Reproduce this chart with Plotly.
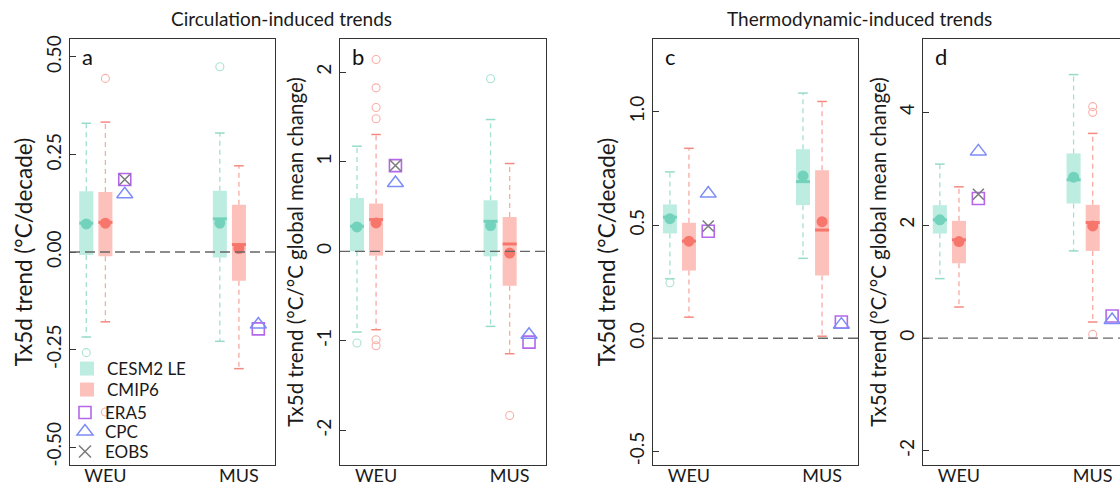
import plotly.graph_objects as go

# ---------------- data ----------------
regions = ["WEU", "MUS"]
models = ["CESM2 LE", "CMIP6"]

# per panel -> per model: [WEU, MUS]
# panel a : circulation-induced, degC/decade
a_q1 = {"CESM2 LE": [-0.008, -0.014], "CMIP6": [-0.011, -0.074]}
a_med = {"CESM2 LE": [0.074, 0.085], "CMIP6": [0.076, 0.019]}
a_q3 = {"CESM2 LE": [0.156, 0.157], "CMIP6": [0.154, 0.121]}
a_lo = {"CESM2 LE": [-0.218, -0.229], "CMIP6": [-0.179, -0.299]}
a_hi = {"CESM2 LE": [0.330, 0.305], "CMIP6": [0.333, 0.221]}
a_mean = {"CESM2 LE": [0.072, 0.074], "CMIP6": [0.074, 0.009]}
a_out = {"CESM2 LE": [[-0.258], [0.475]], "CMIP6": [[0.445, -0.41], []]}
a_era5 = [0.186, -0.197]
a_cpc = [0.148, -0.186]
a_eobs = [0.186, None]

# panel b : circulation-induced, degC/degC GMST
b_q1 = {"CESM2 LE": [0.0, -0.056], "CMIP6": [-0.048, -0.384]}
b_med = {"CESM2 LE": [0.28, 0.335], "CMIP6": [0.354, 0.082]}
b_q3 = {"CESM2 LE": [0.596, 0.570], "CMIP6": [0.533, 0.384]}
b_lo = {"CESM2 LE": [-0.901, -0.838], "CMIP6": [-0.875, -1.143]}
b_hi = {"CESM2 LE": [1.173, 1.471], "CMIP6": [1.304, 0.98]}
b_mean = {"CESM2 LE": [0.272, 0.287], "CMIP6": [0.317, -0.019]}
b_out = {"CESM2 LE": [[-1.024], [1.926]],
         "CMIP6": [[2.141, 1.825, 1.605, 1.479, -0.987, -1.054], [-1.832]]}
b_era5 = [0.957, -1.013]
b_cpc = [0.763, -0.931]
b_eobs = [0.957, None]

# panel c : thermodynamic-induced, degC/decade
c_q1 = {"CESM2 LE": [0.463, 0.588], "CMIP6": [0.299, 0.277]}
c_med = {"CESM2 LE": [0.535, 0.692], "CMIP6": [0.429, 0.478]}
c_q3 = {"CESM2 LE": [0.591, 0.835], "CMIP6": [0.510, 0.742]}
c_lo = {"CESM2 LE": [0.263, 0.353], "CMIP6": [0.093, 0.009]}
c_hi = {"CESM2 LE": [0.735, 1.083], "CMIP6": [0.839, 1.046]}
c_mean = {"CESM2 LE": [0.528, 0.717], "CMIP6": [0.429, 0.515]}
c_out = {"CESM2 LE": [[0.245], []], "CMIP6": [[], []]}
c_era5 = [0.473, 0.072]
c_cpc = [0.639, 0.060]
c_eobs = [0.496, None]

# panel d : thermodynamic-induced, degC/degC GMST
d_q1 = {"CESM2 LE": [1.852, 2.385], "CMIP6": [1.325, 1.544]}
d_med = {"CESM2 LE": [2.095, 2.805], "CMIP6": [1.740, 2.047]}
d_q3 = {"CESM2 LE": [2.355, 3.272], "CMIP6": [2.077, 2.361]}
d_lo = {"CESM2 LE": [1.053, 1.544], "CMIP6": [0.550, 0.284]}
d_hi = {"CESM2 LE": [3.083, 4.669], "CMIP6": [2.680, 3.627]}
d_mean = {"CESM2 LE": [2.095, 2.852], "CMIP6": [1.710, 1.988]}
d_out = {"CESM2 LE": [[], []], "CMIP6": [[], [4.101, 4.0, 0.065]]}
d_era5 = [2.473, 0.391]
d_cpc = [3.308, 0.320]
d_eobs = [2.550, None]

panel_letters = ["a", "b", "c", "d"]
y_titles = ["Tx5d trend (°C/decade)", "Tx5d trend (°C/°C global mean change)",
            "Tx5d trend (°C/decade)", "Tx5d trend (°C/°C global mean change)"]
y_tickvals = [[-0.5, -0.25, 0, 0.25, 0.5], [-2, -1, 0, 1, 2],
              [-0.5, 0.0, 0.5, 1.0], [-2, 0, 2, 4]]
y_ticktext = [["-0.50", "-0.25", "0.00", "0.25", "0.50"], ["-2", "-1", "0", "1", "2"],
              ["-0.5", "0.0", "0.5", "1.0"], ["-2", "0", "2", "4"]]
y_ranges = [[-0.546, 0.546], [-2.385, 2.37], [-0.56, 1.322], [-2.25, 5.3]]
group_titles = ["Circulation-induced trends", "Thermodynamic-induced trends"]
legend_names = ["CESM2 LE", "CMIP6", "ERA5", "CPC", "EOBS"]

# ---------------- styles ----------------
FONT = "Lato"
TXT = "#1a1a1a"
box_fill = {"CESM2 LE": "#bdece0", "CMIP6": "#fdc1bc"}
dot_col = {"CESM2 LE": "#72d2bb", "CMIP6": "#f7766b"}
whisk_col = {"CESM2 LE": "#a3e0d1", "CMIP6": "#f8aaa3"}
cap_col = {"CESM2 LE": "#95dbc9", "CMIP6": "#f58a80"}
out_col = {"CESM2 LE": "#a8e3d4", "CMIP6": "#f9b0aa"}
offset = {"CESM2 LE": -0.143, "CMIP6": 0.0}
obs_off = 0.145
box_w = 0.105
cap_hw = 0.036
ERA5_C = "#b467ea"
CPC_C = "#7d8df6"
EOBS_C = "#7a7a7a"
title_sizes = [22.5, 20.5, 22.5, 20.5]

W, H = 1120, 487
MT, MB = 39, 22
domains = [[70 / W, 275 / W], [340 / W, 546 / W],
           [653 / W, 858 / W], [923 / W, 1.0]]
x_ranges = [[0.735, 2.27], [0.73, 2.272], [0.73, 2.27], [0.731, 2.204]]

panels = [
    (a_q1, a_med, a_q3, a_lo, a_hi, a_mean, a_out, a_era5, a_cpc, a_eobs),
    (b_q1, b_med, b_q3, b_lo, b_hi, b_mean, b_out, b_era5, b_cpc, b_eobs),
    (c_q1, c_med, c_q3, c_lo, c_hi, c_mean, c_out, c_era5, c_cpc, c_eobs),
    (d_q1, d_med, d_q3, d_lo, d_hi, d_mean, d_out, d_era5, d_cpc, d_eobs),
]

fig = go.Figure()
base_pos = [1, 2]

for i, (q1, med, q3, lo, hi, mean, outl, era5, cpc, eobs) in enumerate(panels):
    xa = "x" if i == 0 else f"x{i+1}"
    ya = "y" if i == 0 else f"y{i+1}"
    for m in models:
        xp = [b + offset[m] for b in base_pos]
        # boxes (inter-quartile range)
        fig.add_trace(go.Bar(x=xp, y=[q3[m][k] - q1[m][k] for k in range(2)], base=q1[m],
                             width=box_w, marker=dict(color=box_fill[m], line=dict(width=0)),
                             xaxis=xa, yaxis=ya, showlegend=False, hoverinfo="skip"))
        # whiskers and caps
        wx, wy, cx, cy = [], [], [], []
        for k in range(2):
            wx += [xp[k], xp[k], None, xp[k], xp[k], None]
            wy += [q3[m][k], hi[m][k], None, q1[m][k], lo[m][k], None]
            cx += [xp[k] - cap_hw, xp[k] + cap_hw, None, xp[k] - cap_hw, xp[k] + cap_hw, None]
            cy += [hi[m][k], hi[m][k], None, lo[m][k], lo[m][k], None]
        fig.add_trace(go.Scatter(x=wx, y=wy, mode="lines",
                                 line=dict(color=whisk_col[m], width=1.3, dash="5px,4px"),
                                 xaxis=xa, yaxis=ya, showlegend=False, hoverinfo="skip"))
        fig.add_trace(go.Scatter(x=cx, y=cy, mode="lines",
                                 line=dict(color=cap_col[m], width=1.5),
                                 xaxis=xa, yaxis=ya, showlegend=False, hoverinfo="skip"))
        # median
        mx, my = [], []
        for k in range(2):
            mx += [xp[k] - box_w / 2, xp[k] + box_w / 2, None]
            my += [med[m][k], med[m][k], None]
        fig.add_trace(go.Scatter(x=mx, y=my, mode="lines",
                                 line=dict(color=dot_col[m], width=3),
                                 xaxis=xa, yaxis=ya, showlegend=False, hoverinfo="skip"))
        # mean
        fig.add_trace(go.Scatter(x=xp, y=mean[m], mode="markers",
                                 marker=dict(color=dot_col[m], size=11, line=dict(width=0)),
                                 xaxis=xa, yaxis=ya, showlegend=False, hoverinfo="skip"))
        # outliers
        ox, oy = [], []
        for k in range(2):
            for v in outl[m][k]:
                ox.append(xp[k])
                oy.append(v)
        if ox:
            fig.add_trace(go.Scatter(x=ox, y=oy, mode="markers",
                                     marker=dict(symbol="circle-open", color=out_col[m], size=8,
                                                 line=dict(width=1.1)),
                                     xaxis=xa, yaxis=ya, showlegend=False, hoverinfo="skip"))
    # observations
    xo = [b + obs_off for b in base_pos]
    fig.add_trace(go.Scatter(x=xo, y=era5, mode="markers",
                             marker=dict(symbol="square-open", color=ERA5_C, size=12,
                                         line=dict(width=1.6)),
                             xaxis=xa, yaxis=ya, showlegend=False, hoverinfo="skip"))
    fig.add_trace(go.Scatter(x=xo, y=cpc, mode="markers",
                             marker=dict(symbol="triangle-up-open", color=CPC_C, size=14,
                                         line=dict(width=1.5)),
                             xaxis=xa, yaxis=ya, showlegend=False, hoverinfo="skip"))
    fig.add_trace(go.Scatter(x=xo, y=eobs, mode="markers",
                             marker=dict(symbol="x-thin-open", color=EOBS_C, size=11,
                                         line=dict(width=1.5, color=EOBS_C)),
                             xaxis=xa, yaxis=ya, showlegend=False, hoverinfo="skip"))

    # zero line
    fig.add_shape(type="line", xref=f"{xa} domain", yref=ya, x0=0, x1=1, y0=0, y1=0,
                  line=dict(color="#666666", width=1.3, dash="10px,5px"), layer="above")
    # panel letter
    fig.add_annotation(text=panel_letters[i], xref=f"{xa} domain", yref=f"{ya} domain",
                       x=0.05, y=0.958, xanchor="left", yanchor="middle", showarrow=False,
                       font=dict(family=FONT, size=22, color="#111111"))

    axn = "" if i == 0 else str(i + 1)
    fig.update_layout(**{
        f"xaxis{axn}": dict(domain=domains[i], anchor=ya, range=x_ranges[i],
                            tickvals=base_pos, ticktext=regions, ticks="",
                            ticklabelstandoff=-6,
                            showgrid=False, zeroline=False, showline=True, mirror=True,
                            linecolor="#333333", linewidth=1.3,
                            tickfont=dict(family=FONT, size=18, color=TXT)),
        f"yaxis{axn}": dict(domain=[0, 1], anchor=xa, range=y_ranges[i],
                            tickvals=y_tickvals[i], ticktext=y_ticktext[i],
                            ticks="inside", ticklen=6, tickcolor="#333333", tickwidth=1.2,
                            tickangle=-90, showgrid=False, zeroline=False, showline=True,
                            mirror=(i != 3), linecolor="#333333", linewidth=1.3,
                            tickfont=dict(family=FONT, size=19, color=TXT),
                            title=dict(text=y_titles[i], standoff=3,
                                       font=dict(family=FONT, size=title_sizes[i], color=TXT))),
    })

# legend entries (one legend box per entry, stacked in panel a)
leg_markers = [
    dict(symbol="square", color=box_fill["CESM2 LE"], size=14),
    dict(symbol="square", color=box_fill["CMIP6"], size=14),
    dict(symbol="square-open", color=ERA5_C, size=12, line=dict(width=1.6)),
    dict(symbol="triangle-up-open", color=CPC_C, size=14, line=dict(width=1.5)),
    dict(symbol="x-thin-open", color=EOBS_C, size=12, line=dict(width=1.5, color=EOBS_C)),
]
leg_y_px = [369, 390, 413, 432, 452]
leg_x_px = [67, 67, 65, 65, 65]
leg_ids = ["legend", "legend2", "legend3", "legend4", "legend5"]
for name, mk, lid in zip(legend_names, leg_markers, leg_ids):
    fig.add_trace(go.Scatter(x=[None], y=[None], mode="markers", name=name,
                             marker=mk, showlegend=True, legend=lid))
leg_layout = {}
for lid, ypx, xpx in zip(leg_ids, leg_y_px, leg_x_px):
    leg_layout[lid] = dict(x=xpx / W, y=(H - MB - ypx) / (H - MT - MB), xanchor="left",
                           yanchor="middle", bgcolor="rgba(0,0,0,0)",
                           font=dict(family=FONT, size=17, color=TXT),
                           itemsizing="trace")
fig.update_layout(**leg_layout)

# group titles
fig.add_annotation(text=group_titles[0], xref="paper", yref="paper",
                   x=281 / W, y=1.0, yshift=21,
                   xanchor="center", yanchor="middle", showarrow=False,
                   font=dict(family=FONT, size=19, color=TXT))
fig.add_annotation(text=group_titles[1], xref="paper", yref="paper",
                   x=859 / W, y=1.0, yshift=21,
                   xanchor="center", yanchor="middle", showarrow=False,
                   font=dict(family=FONT, size=19, color=TXT))

fig.update_layout(
    width=W, height=H,
    margin=dict(l=0, r=0, t=MT, b=MB),
    paper_bgcolor="white", plot_bgcolor="white",
    barmode="overlay",
    font=dict(family=FONT, size=16, color=TXT),
)

fig.write_html("out.html", config={"displayModeBar": False},
               post_script="document.body.style.margin='0';")
